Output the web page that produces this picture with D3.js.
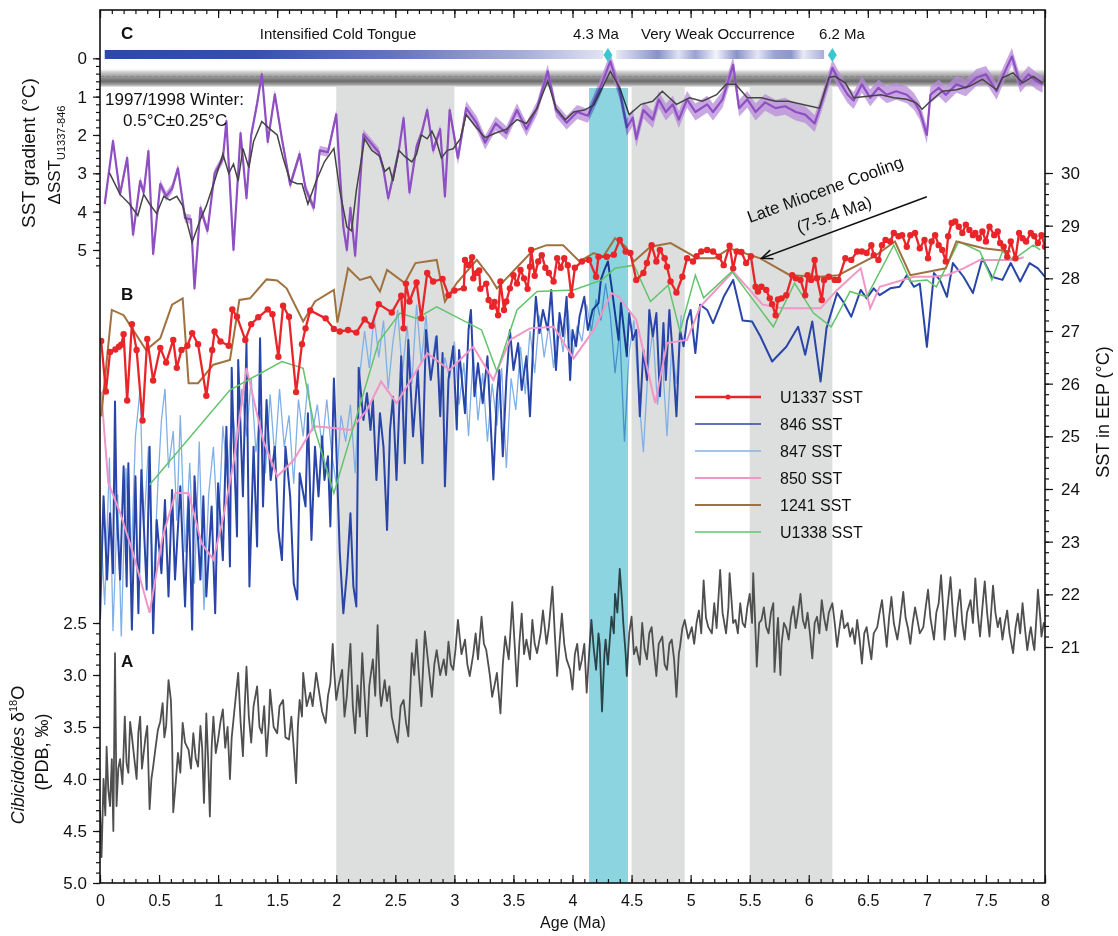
<!DOCTYPE html>
<html>
<head>
<meta charset="utf-8">
<script src="https://cdn.jsdelivr.net/npm/d3@7"></script>
<style>
  body { margin: 0; background: #fff; }
  text { font-family: "Liberation Sans", Arial, sans-serif; fill: #111; }
</style>
</head>
<body>
<svg id="chart" width="1118" height="936"></svg>
<script>
// ---- data ----

// shaded intervals (Ma)
const grayBands = [[2.0, 3.0], [4.5, 4.95], [5.5, 6.2]];
const cyanBand = [4.14, 4.47];

// C: SST gradient U1337-846 (age, dSST)
const dsst = [[0.04,3.8],[0.11,2.16],[0.17,3.54],[0.23,2.6],[0.28,4.6],[0.34,3.2],[0.37,3.5],[0.41,2.42],[0.45,5.1],[0.51,3.28],[0.56,3.6],[0.61,3.4],[0.66,2.87],[0.72,4.17],[0.77,4.2],[0.8,6.0],[0.85,3.9],[0.91,4.5],[0.97,3.0],[1.04,2.63],[1.07,1.64],[1.13,5.0],[1.19,1.95],[1.24,3.65],[1.28,2.0],[1.33,1.18],[1.37,0.42],[1.42,2.18],[1.48,0.94],[1.54,2.1],[1.61,3.3],[1.69,2.5],[1.74,3.4],[1.81,3.9],[1.86,2.4],[1.93,2.45],[2.0,1.46],[2.06,4.4],[2.09,5.0],[2.12,3.9],[2.16,5.15],[2.23,1.98],[2.28,2.16],[2.36,2.45],[2.4,2.9],[2.44,3.65],[2.48,3.1],[2.53,2.4],[2.57,1.56],[2.62,3.5],[2.68,2.3],[2.72,1.98],[2.77,1.35],[2.82,2.4],[2.88,1.85],[2.92,3.6],[2.96,1.35],[3.03,2.6],[3.1,1.3],[3.19,1.7],[3.26,2.2],[3.35,1.7],[3.44,1.95],[3.53,1.35],[3.61,1.85],[3.7,1.3],[3.79,0.34],[3.86,1.35],[3.95,1.68],[4.04,1.4],[4.13,1.5],[4.23,0.8],[4.32,0.08],[4.4,0.86],[4.46,1.8],[4.51,1.55],[4.54,2.1],[4.6,1.35],[4.68,1.6],[4.73,1.07],[4.79,1.4],[4.85,1.2],[4.9,1.6],[4.97,1.07],[5.04,1.4],[5.14,1.2],[5.19,1.4],[5.27,1.07],[5.36,0.17],[5.41,1.3],[5.48,1.07],[5.55,1.4],[5.63,1.15],[5.72,1.3],[5.8,1.25],[5.89,1.4],[5.97,1.47],[6.05,1.7],[6.1,1.25],[6.2,0.25],[6.26,0.6],[6.33,0.95],[6.38,1.1],[6.45,0.68],[6.52,1.03],[6.59,0.77],[6.66,0.95],[6.74,0.86],[6.83,0.95],[6.89,1.12],[6.94,1.38],[7.0,2.0],[7.03,0.95],[7.1,0.77],[7.16,0.95],[7.25,0.68],[7.33,0.77],[7.42,0.5],[7.5,0.42],[7.59,0.86],[7.65,0.42],[7.72,-0.05],[7.79,0.68],[7.86,0.42],[7.93,0.6],[7.98,0.68]];

// uncertainty of dSST (half width), by age segment start
const dsstErr = [[0, 0.12], [3.0, 0.18], [4.2, 0.22]];

// C: smoothed gradient
const dsstSmooth = [[0.08,2.99],[0.17,3.55],[0.25,3.8],[0.32,4.1],[0.37,3.55],[0.42,3.8],[0.48,4.05],[0.54,3.6],[0.59,3.7],[0.65,3.6],[0.7,3.85],[0.78,4.8],[0.85,4.2],[0.9,3.85],[0.97,3.2],[1.04,2.5],[1.09,3.0],[1.13,2.76],[1.17,3.2],[1.21,2.35],[1.26,2.85],[1.3,2.17],[1.37,1.65],[1.43,1.82],[1.5,2.0],[1.55,2.6],[1.61,3.2],[1.67,3.27],[1.71,3.27],[1.76,3.8],[1.83,3.2],[1.9,2.7],[1.98,2.35],[2.03,3.45],[2.09,4.4],[2.13,4.5],[2.17,3.45],[2.24,2.1],[2.3,2.4],[2.37,2.56],[2.41,2.95],[2.45,2.85],[2.48,3.2],[2.53,2.4],[2.58,2.56],[2.64,2.7],[2.68,2.5],[2.72,2.0],[2.77,2.1],[2.81,1.9],[2.85,2.17],[2.89,2.6],[2.94,2.4],[2.99,2.36],[3.05,2.1],[3.1,1.47],[3.19,1.82],[3.26,2.07],[3.35,1.95],[3.44,1.85],[3.53,1.6],[3.61,1.7],[3.7,1.3],[3.79,0.6],[3.86,1.3],[3.94,1.6],[4.01,1.4],[4.1,1.35],[4.18,1.22],[4.32,0.34],[4.4,0.77],[4.48,1.47],[4.58,1.2],[4.68,1.12],[4.76,0.86],[4.88,1.2],[4.99,1.03],[5.1,1.12],[5.22,0.95],[5.3,0.68],[5.38,0.68],[5.48,1.03],[5.6,1.03],[5.72,1.12],[5.83,1.12],[5.94,1.2],[6.09,1.3],[6.17,0.5],[6.22,0.47],[6.31,0.64],[6.38,1.03],[6.5,0.99],[6.61,0.95],[6.72,1.03],[6.83,1.07],[6.91,1.16],[6.96,1.33],[7.03,1.12],[7.13,0.86],[7.25,0.82],[7.36,0.73],[7.47,0.55],[7.59,0.82],[7.64,0.51],[7.73,0.38],[7.81,0.64],[7.9,0.47],[7.98,0.64]];

// B: SST records (age, degC)
const sstU1337 = [[0.01,26.81],[0.05,25.85],[0.085,26.6],[0.13,26.65],[0.16,26.7],[0.18,26.74],[0.2,26.94],[0.23,25.68],[0.27,27.13],[0.31,26.64],[0.36,25.3],[0.4,26.85],[0.45,26.06],[0.51,26.68],[0.56,26.4],[0.62,26.83],[0.65,26.3],[0.69,26.64],[0.74,26.72],[0.78,26.96],[0.83,26.75],[0.9,25.77],[0.95,26.64],[0.97,26.99],[1.02,26.8],[1.09,26.72],[1.12,27.41],[1.16,27.27],[1.23,26.83],[1.28,27.13],[1.34,27.26],[1.42,27.41],[1.46,27.32],[1.51,26.51],[1.55,27.48],[1.6,27.27],[1.66,25.84],[1.71,26.75],[1.74,27.05],[1.78,27.39],[1.91,27.24],[1.98,27.04],[2.03,26.99],[2.1,27.02],[2.17,26.97],[2.24,27.22],[2.3,27.1],[2.36,27.51],[2.47,27.35],[2.55,27.67],[2.57,27.05],[2.59,27.9],[2.62,27.56],[2.68,27.92],[2.72,27.24],[2.77,28.1],[2.82,27.94],[2.9,27.99],[2.95,27.68],[3.0,27.77],[3.08,27.81],[3.09,28.35],[3.12,28.25],[3.15,28.4],[3.16,28.0],[3.19,28.1],[3.21,28.15],[3.22,27.8],[3.27,27.9],[3.29,27.59],[3.32,27.46],[3.34,27.55],[3.37,27.3],[3.39,27.94],[3.42,27.4],[3.44,27.56],[3.47,27.81],[3.5,28.06],[3.53,27.9],[3.56,28.16],[3.59,28.0],[3.62,27.8],[3.64,28.22],[3.65,28.54],[3.68,28.05],[3.71,28.32],[3.74,28.44],[3.77,28.2],[3.8,28.1],[3.84,27.94],[3.87,28.38],[3.9,28.2],[3.93,28.38],[3.96,28.25],[3.99,27.68],[4.02,28.2],[4.08,28.32],[4.14,28.35],[4.2,28.03],[4.22,28.41],[4.29,28.41],[4.35,28.45],[4.4,28.73],[4.45,28.51],[4.49,28.48],[4.54,27.97],[4.6,28.1],[4.63,28.29],[4.67,28.63],[4.71,28.32],[4.74,28.54],[4.78,28.38],[4.8,28.22],[4.83,27.94],[4.88,27.73],[4.93,28.03],[4.97,28.38],[5.02,28.32],[5.05,28.42],[5.09,28.51],[5.14,28.54],[5.19,28.51],[5.24,28.41],[5.28,28.25],[5.33,28.62],[5.36,28.19],[5.39,28.51],[5.43,28.5],[5.47,28.29],[5.51,28.42],[5.55,27.84],[5.57,27.75],[5.6,27.84],[5.64,27.78],[5.67,27.62],[5.69,27.51],[5.72,27.3],[5.74,27.6],[5.77,27.62],[5.81,27.68],[5.86,28.06],[5.89,28.0],[5.93,27.97],[5.97,27.68],[5.99,28.06],[6.02,27.97],[6.05,28.35],[6.07,28.0],[6.11,27.59],[6.13,27.97],[6.17,28.03],[6.22,27.97],[6.25,27.97],[6.31,28.38],[6.36,28.35],[6.41,28.51],[6.45,28.51],[6.49,28.48],[6.53,28.63],[6.55,28.44],[6.59,28.35],[6.62,28.63],[6.65,28.73],[6.69,28.7],[6.72,28.86],[6.76,28.8],[6.79,28.82],[6.83,28.6],[6.86,28.82],[6.9,28.86],[6.94,28.57],[6.98,28.73],[7.01,28.38],[7.04,28.7],[7.07,28.82],[7.1,28.63],[7.13,28.54],[7.16,28.32],[7.18,28.8],[7.21,29.05],[7.24,29.08],[7.27,28.98],[7.3,28.86],[7.33,29.02],[7.36,28.92],[7.39,28.82],[7.41,28.86],[7.44,28.76],[7.47,28.89],[7.5,28.7],[7.53,28.98],[7.57,28.82],[7.6,28.89],[7.62,28.67],[7.65,28.6],[7.68,28.41],[7.71,28.7],[7.75,28.38],[7.78,28.86],[7.81,28.76],[7.84,28.7],[7.88,28.86],[7.91,28.8],[7.94,28.67],[7.97,28.82],[8.0,28.6]];

const sst846 = [[0.0,21.52],[0.03,23.86],[0.06,22.28],[0.085,23.54],[0.11,22.4],[0.127,25.66],[0.14,23.67],[0.17,22.28],[0.2,24.43],[0.226,22.15],[0.24,24.49],[0.27,21.33],[0.3,24.24],[0.325,21.64],[0.35,24.36],[0.395,22.09],[0.42,24.8],[0.45,21.26],[0.48,23.41],[0.52,22.4],[0.55,23.79],[0.58,21.96],[0.61,23.98],[0.635,22.28],[0.68,24.05],[0.72,21.77],[0.75,23.86],[0.78,21.33],[0.8,24.24],[0.85,22.28],[0.875,23.86],[0.9,21.96],[0.945,23.67],[0.975,21.64],[1.0,24.11],[1.04,22.65],[1.07,25.18],[1.1,22.53],[1.115,26.3],[1.13,24.99],[1.16,23.1],[1.17,26.45],[1.21,23.86],[1.24,26.77],[1.265,22.15],[1.3,24.8],[1.33,22.91],[1.355,26.86],[1.38,23.67],[1.41,25.69],[1.445,24.17],[1.48,24.8],[1.51,23.22],[1.54,22.65],[1.57,24.8],[1.61,23.86],[1.64,22.21],[1.67,21.9],[1.69,24.3],[1.74,23.67],[1.76,25.44],[1.79,23.03],[1.82,24.8],[1.85,23.86],[1.88,25.0],[1.9,24.17],[1.93,24.62],[1.95,23.29],[1.98,26.1],[2.0,24.8],[2.03,22.78],[2.06,21.64],[2.09,22.4],[2.12,23.54],[2.145,22.15],[2.17,21.77],[2.19,26.3],[2.23,25.31],[2.26,25.82],[2.29,25.12],[2.31,25.69],[2.34,24.17],[2.37,25.44],[2.4,24.8],[2.43,23.22],[2.455,25.12],[2.48,25.75],[2.51,24.17],[2.55,26.52],[2.58,24.49],[2.61,26.83],[2.65,25.0],[2.69,26.26],[2.73,24.49],[2.76,27.02],[2.8,26.07],[2.85,26.9],[2.88,25.38],[2.9,26.58],[2.92,24.05],[2.95,26.07],[2.99,26.71],[3.02,25.13],[3.04,26.64],[3.09,25.44],[3.12,27.02],[3.14,27.4],[3.17,25.76],[3.2,26.39],[3.24,25.63],[3.28,26.52],[3.33,24.18],[3.36,25.76],[3.38,26.26],[3.41,24.62],[3.44,26.07],[3.47,27.02],[3.5,26.26],[3.54,26.77],[3.57,25.88],[3.61,26.52],[3.64,25.38],[3.67,26.9],[3.69,27.65],[3.72,26.96],[3.75,27.4],[3.79,27.02],[3.82,27.78],[3.86,26.26],[3.89,27.34],[3.92,26.9],[3.95,27.65],[3.98,26.07],[4.0,27.02],[4.03,26.71],[4.06,27.28],[4.1,27.65],[4.13,27.02],[4.17,27.4],[4.22,27.53],[4.24,27.97],[4.27,28.16],[4.3,28.32],[4.33,27.85],[4.36,27.34],[4.39,26.83],[4.41,27.53],[4.46,26.52],[4.48,27.34],[4.51,26.83],[4.54,27.02],[4.57,25.38],[4.6,26.64],[4.63,26.07],[4.65,27.4],[4.68,26.9],[4.71,27.34],[4.74,25.76],[4.77,27.15],[4.79,26.07],[4.82,27.4],[4.85,26.52],[4.88,25.38],[4.91,27.02],[4.94,26.71],[4.97,27.2],[5.0,27.4],[5.04,26.58],[5.08,27.5],[5.14,27.4],[5.19,27.15],[5.28,27.65],[5.36,27.97],[5.44,27.2],[5.52,27.18],[5.59,26.9],[5.69,26.42],[5.81,26.7],[5.91,27.08],[5.97,26.55],[6.03,27.18],[6.1,26.04],[6.15,27.05],[6.24,27.72],[6.29,27.56],[6.36,27.27],[6.44,27.78],[6.49,27.62],[6.55,27.81],[6.6,27.68],[6.69,27.81],[6.77,27.84],[6.83,28.06],[6.89,27.84],[6.94,27.9],[7.0,26.7],[7.06,28.1],[7.11,27.97],[7.17,27.65],[7.22,28.29],[7.31,28.03],[7.39,27.72],[7.47,28.38],[7.55,28.03],[7.64,27.97],[7.71,28.29],[7.79,27.94],[7.87,28.29],[7.94,28.19],[8.0,28.03]];

const sst847 = [[0.0,23.5],[0.04,21.8],[0.08,24.6],[0.11,21.3],[0.15,23.9],[0.18,21.2],[0.22,24.4],[0.26,22.3],[0.3,25.0],[0.34,25.9],[0.37,23.2],[0.41,24.8],[0.45,22.0],[0.49,24.1],[0.52,25.3],[0.55,25.9],[0.58,24.4],[0.62,25.1],[0.65,23.4],[0.68,25.4],[0.72,22.8],[0.76,24.5],[0.8,22.2],[0.84,24.9],[0.88,21.7],[0.92,23.9],[0.96,24.8],[1.0,23.1],[1.04,25.2],[1.08,24.2],[1.12,25.6],[1.16,24.6],[1.2,25.9],[1.24,25.0],[1.28,26.1],[1.32,24.7],[1.36,25.5],[1.4,24.3],[1.44,25.8],[1.48,24.6],[1.52,25.9],[1.56,24.8],[1.6,25.4],[1.64,24.1],[1.68,25.7],[1.72,25.0],[1.76,26.0],[1.8,25.1],[1.84,25.6],[1.88,24.8],[1.92,25.7],[1.96,24.7],[2.0,24.1],[2.04,25.4],[2.08,24.9],[2.12,25.6],[2.16,24.3],[2.2,26.2],[2.24,27.0],[2.28,26.3],[2.32,27.3],[2.36,26.5],[2.4,27.2],[2.44,25.9],[2.48,26.8],[2.52,27.4],[2.56,26.2],[2.6,27.1],[2.64,26.0],[2.68,27.5],[2.72,26.4],[2.76,27.3],[2.8,26.1],[2.84,26.9],[2.88,25.7],[2.92,26.5],[2.96,26.1],[3.0,26.8],[3.04,25.6],[3.08,26.4],[3.12,25.0],[3.16,26.6],[3.2,25.3],[3.24,26.2],[3.28,24.9],[3.32,26.0],[3.36,25.2],[3.4,26.3],[3.44,24.4],[3.48,26.1],[3.52,25.5],[3.56,26.7],[3.6,25.8],[3.64,27.0],[3.68,26.2],[3.72,27.3],[3.76,26.5],[3.8,27.1],[3.84,26.3],[3.88,27.2],[3.92,26.6],[3.96,27.4],[4.0,26.5],[4.04,27.1],[4.08,26.8],[4.12,27.5],[4.16,27.0],[4.2,27.6],[4.24,27.2],[4.28,27.9],[4.32,27.3],[4.36,26.2],[4.4,27.0],[4.44,24.9],[4.48,26.6],[4.52,27.2],[4.56,25.8],[4.6,24.7],[4.64,26.3],[4.68,27.0],[4.72,25.6],[4.76,26.5],[4.8,25.0],[4.84,26.7],[4.88,26.0],[4.92,27.3]];

const sst850 = [[0.01,25.85],[0.07,24.12],[0.17,23.55],[0.28,22.78],[0.42,21.65],[0.53,23.09],[0.64,23.93],[0.75,23.92],[0.86,22.97],[0.96,22.66],[1.04,23.42],[1.13,24.49],[1.24,26.3],[1.38,24.93],[1.5,24.24],[1.64,24.55],[1.81,25.19],[1.98,25.16],[2.12,25.12],[2.26,25.5],[2.38,26.04],[2.51,25.63],[2.77,26.58],[2.96,26.26],[3.16,26.7],[3.33,26.07],[3.47,26.83],[3.64,27.05],[3.84,27.08],[4.01,26.48],[4.18,27.02],[4.33,27.72],[4.39,27.65],[4.54,27.21],[4.7,25.63],[4.8,26.77],[4.97,26.83],[5.08,27.46],[5.36,28.13],[5.5,27.78],[5.61,27.5],[5.78,27.43],[5.95,27.43],[6.1,27.43],[6.24,27.78],[6.44,28.19],[6.52,27.43],[6.6,27.84],[6.89,28.03],[7.03,28.03],[7.17,28.06],[7.31,28.19],[7.45,28.35],[7.59,28.35],[7.73,28.35],[7.82,28.4]];

const sst1241 = [[0.01,25.38],[0.1,27.4],[0.2,27.3],[0.39,26.64],[0.51,26.86],[0.61,27.5],[0.7,27.62],[0.75,26.01],[0.83,26.01],[0.96,26.36],[1.1,26.45],[1.18,27.59],[1.27,27.62],[1.41,27.98],[1.5,27.96],[1.58,27.81],[1.72,27.18],[1.82,27.56],[1.98,27.78],[2.01,27.16],[2.1,28.19],[2.2,27.97],[2.29,28.03],[2.37,27.75],[2.43,28.16],[2.58,27.91],[2.67,28.29],[2.85,28.35],[2.92,27.56],[3.02,27.91],[3.19,28.35],[3.3,28.03],[3.36,27.81],[3.67,28.54],[3.78,28.63],[3.92,28.63],[4.06,28.32],[4.18,28.48],[4.26,28.41],[4.36,28.76],[4.45,28.6],[4.52,28.32],[4.66,28.6],[4.83,28.67],[5.01,28.44],[5.05,28.38],[5.2,28.38],[5.33,28.57],[5.59,28.38],[5.84,28.06],[6.1,28.03],[6.25,28.06],[6.55,28.41],[6.73,28.7],[6.86,28.06],[7.16,28.19],[7.25,28.7],[7.48,28.57],[7.71,28.51]];

const sstU1338 = [[0.42,24.08],[1.1,25.88],[1.54,26.42],[1.72,26.29],[1.82,25.12],[1.98,23.92],[2.36,26.8],[2.54,27.34],[2.68,27.24],[2.85,27.46],[3.23,27.02],[3.36,26.23],[3.53,27.4],[3.7,27.75],[4.01,27.78],[4.25,27.97],[4.36,28.19],[4.52,28.25],[4.66,27.56],[4.81,27.87],[4.91,26.99],[5.04,28.06],[5.11,27.63],[5.35,28.13],[5.52,27.62],[5.7,27.08],[5.88,27.91],[6.04,27.34],[6.19,27.08],[6.35,27.75],[6.49,27.65],[6.72,28.63],[6.86,27.94],[7.0,27.97],[7.08,27.84],[7.27,28.7],[7.45,28.51],[7.55,27.97],[7.64,28.51],[7.73,28.35],[7.9,28.63],[7.96,28.54]];

// A: Cibicidoides d18O (age, permil)
const d18O = [[0.0,4.3],[0.013,4.75],[0.03,4.0],[0.045,4.35],[0.056,3.69],[0.07,4.1],[0.085,4.26],[0.1,3.81],[0.113,4.5],[0.127,2.79],[0.14,4.26],[0.155,3.9],[0.17,3.81],[0.19,4.05],[0.21,3.4],[0.225,3.85],[0.24,3.94],[0.255,3.45],[0.27,3.59],[0.29,3.8],[0.31,4.0],[0.325,3.55],[0.34,3.4],[0.355,3.9],[0.37,3.75],[0.385,3.6],[0.4,3.49],[0.42,4.29],[0.435,4.0],[0.45,3.88],[0.47,3.7],[0.49,3.53],[0.51,3.45],[0.53,3.27],[0.545,3.6],[0.56,3.49],[0.58,3.05],[0.6,3.24],[0.61,3.6],[0.62,4.32],[0.64,4.05],[0.66,3.75],[0.68,3.94],[0.7,3.46],[0.72,3.65],[0.75,3.72],[0.77,3.9],[0.79,3.56],[0.81,3.8],[0.83,3.88],[0.85,3.49],[0.865,3.7],[0.88,4.23],[0.89,3.85],[0.9,3.37],[0.915,3.8],[0.93,4.36],[0.945,3.7],[0.96,3.4],[0.98,3.75],[1.0,3.62],[1.02,3.45],[1.04,3.33],[1.06,3.7],[1.08,3.5],[1.1,4.0],[1.115,3.6],[1.13,3.43],[1.15,3.2],[1.17,2.98],[1.19,3.45],[1.21,3.78],[1.225,3.3],[1.24,2.92],[1.26,3.4],[1.28,3.65],[1.3,3.3],[1.33,3.11],[1.35,3.5],[1.37,3.56],[1.39,3.3],[1.41,3.78],[1.43,3.45],[1.44,3.14],[1.47,3.5],[1.5,3.56],[1.52,3.3],[1.55,3.24],[1.57,3.6],[1.6,3.62],[1.62,3.4],[1.64,3.7],[1.66,4.04],[1.675,3.5],[1.69,3.24],[1.71,3.4],[1.72,2.98],[1.75,3.3],[1.78,3.17],[1.8,3.3],[1.83,2.98],[1.86,3.2],[1.88,3.35],[1.91,3.46],[1.93,3.2],[1.95,3.08],[1.97,2.7],[1.985,3.0],[2.0,3.24],[2.02,3.1],[2.05,2.95],[2.07,3.4],[2.09,3.2],[2.12,2.7],[2.14,3.3],[2.16,3.56],[2.18,3.1],[2.2,3.4],[2.22,2.79],[2.24,3.2],[2.26,3.59],[2.28,3.1],[2.31,2.85],[2.33,3.2],[2.35,2.52],[2.37,3.17],[2.38,3.3],[2.41,3.05],[2.43,3.25],[2.45,3.11],[2.47,3.4],[2.5,3.56],[2.52,3.65],[2.545,3.3],[2.57,3.24],[2.59,3.45],[2.61,3.59],[2.64,2.79],[2.66,3.0],[2.68,2.66],[2.7,3.0],[2.72,3.3],[2.75,2.58],[2.78,2.9],[2.81,3.21],[2.83,2.9],[2.85,2.76],[2.88,3.0],[2.91,2.85],[2.93,3.0],[2.95,2.68],[2.97,2.9],[2.99,2.95],[3.01,2.75],[3.03,2.47],[3.06,2.8],[3.09,2.66],[3.11,2.9],[3.13,3.01],[3.16,2.8],[3.18,2.6],[3.2,2.85],[3.23,2.44],[3.25,2.7],[3.27,2.76],[3.3,3.0],[3.32,3.21],[3.34,3.1],[3.36,2.98],[3.39,3.37],[3.41,2.9],[3.43,2.63],[3.46,2.85],[3.49,2.3],[3.51,2.7],[3.53,3.11],[3.55,2.7],[3.57,2.41],[3.59,2.8],[3.61,2.66],[3.64,2.85],[3.66,2.47],[3.68,2.7],[3.7,2.79],[3.73,2.6],[3.75,2.38],[3.78,2.7],[3.8,2.54],[3.83,2.15],[3.85,2.6],[3.87,3.01],[3.89,2.7],[3.91,2.41],[3.93,2.7],[3.95,2.85],[3.98,2.95],[4.0,3.14],[4.02,2.8],[4.04,2.7],[4.06,2.95],[4.08,2.85],[4.1,2.7],[4.12,3.17],[4.14,2.8],[4.16,2.47],[4.18,2.75],[4.2,2.95],[4.22,2.6],[4.23,2.7],[4.25,3.35],[4.27,2.8],[4.28,2.66],[4.3,2.9],[4.33,2.44],[4.35,2.6],[4.36,2.22],[4.38,2.4],[4.4,1.98],[4.42,2.3],[4.43,2.5],[4.45,2.8],[4.46,3.01],[4.48,2.6],[4.5,2.44],[4.52,2.8],[4.54,2.73],[4.57,2.9],[4.59,2.5],[4.61,2.75],[4.63,2.85],[4.65,2.6],[4.67,2.54],[4.69,2.8],[4.71,3.01],[4.73,2.7],[4.76,2.63],[4.78,2.9],[4.8,2.95],[4.82,2.7],[4.84,2.66],[4.86,2.85],[4.88,3.21],[4.9,2.8],[4.91,2.73],[4.93,2.55],[4.95,2.47],[4.98,2.65],[5.01,2.54],[5.03,2.7],[5.05,2.5],[5.07,2.38],[5.09,2.6],[5.11,2.09],[5.13,2.45],[5.15,2.54],[5.18,2.6],[5.2,2.31],[5.22,2.55],[5.25,1.99],[5.27,2.4],[5.3,2.6],[5.32,2.35],[5.33,2.02],[5.36,2.5],[5.38,2.47],[5.4,2.6],[5.42,2.31],[5.44,2.5],[5.46,2.54],[5.48,2.35],[5.5,2.22],[5.52,2.5],[5.53,2.02],[5.55,2.6],[5.56,2.92],[5.58,2.5],[5.6,2.47],[5.62,2.35],[5.64,2.54],[5.66,2.6],[5.68,2.4],[5.7,2.31],[5.71,2.97],[5.73,2.6],[5.74,2.45],[5.76,3.0],[5.77,2.7],[5.79,2.5],[5.81,2.55],[5.83,2.66],[5.85,2.45],[5.87,2.34],[5.89,2.55],[5.91,2.4],[5.93,2.22],[5.95,2.47],[5.97,2.55],[5.99,2.4],[6.01,2.6],[6.03,2.84],[6.05,2.5],[6.07,2.44],[6.09,2.6],[6.11,2.28],[6.13,2.45],[6.15,2.57],[6.17,2.4],[6.2,2.31],[6.22,2.5],[6.24,2.73],[6.26,2.55],[6.28,2.38],[6.3,2.55],[6.33,2.5],[6.35,2.63],[6.37,2.55],[6.39,2.7],[6.41,2.47],[6.43,2.65],[6.45,2.89],[6.47,2.6],[6.49,2.54],[6.51,2.7],[6.53,2.85],[6.55,2.6],[6.58,2.54],[6.6,2.4],[6.62,2.28],[6.64,2.5],[6.66,2.73],[6.68,2.45],[6.7,2.25],[6.72,2.5],[6.75,2.66],[6.77,2.5],[6.8,2.2],[6.82,2.45],[6.84,2.55],[6.86,2.7],[6.88,2.5],[6.9,2.35],[6.92,2.47],[6.94,2.6],[6.97,2.54],[6.99,2.35],[7.01,2.18],[7.03,2.45],[7.06,2.66],[7.08,2.4],[7.1,2.31],[7.12,2.04],[7.14,2.4],[7.15,2.66],[7.17,2.4],[7.2,2.06],[7.22,2.4],[7.24,2.63],[7.26,2.35],[7.28,2.18],[7.3,2.5],[7.32,2.66],[7.34,2.4],[7.37,2.28],[7.39,2.5],[7.41,2.07],[7.43,2.4],[7.45,2.63],[7.47,2.35],[7.49,2.1],[7.51,2.4],[7.53,2.63],[7.55,2.3],[7.56,2.14],[7.58,2.4],[7.6,2.54],[7.62,2.45],[7.64,2.66],[7.66,2.5],[7.68,2.38],[7.7,2.6],[7.73,2.79],[7.75,2.55],[7.77,2.41],[7.79,2.6],[7.81,2.31],[7.83,2.55],[7.85,2.76],[7.87,2.6],[7.88,2.54],[7.9,2.7],[7.91,2.76],[7.93,2.4],[7.94,2.18],[7.96,2.45],[7.97,2.63],[7.99,2.5],[8.0,2.54]];

// axis ticks
const ageTicks = [0, 0.5, 1, 1.5, 2, 2.5, 3, 3.5, 4, 4.5, 5, 5.5, 6, 6.5, 7, 7.5, 8];
const gradTicks = [0, 1, 2, 3, 4, 5];
const sstTicks = [21, 22, 23, 24, 25, 26, 27, 28, 29, 30];
const d18OTicks = [2.5, 3.0, 3.5, 4.0, 4.5, 5.0];

// legend
const legendItems = [
  {label: 'U1337 SST', color: '#e8262a', width: 2.5, dot: true},
  {label: '846 SST', color: '#2a45a8', width: 1.5},
  {label: '847 SST', color: '#80b0e6', width: 1.3},
  {label: '850 SST', color: '#f196c6', width: 2},
  {label: '1241 SST', color: '#a0713f', width: 2},
  {label: 'U1338 SST', color: '#62c46c', width: 1.5}
];

// ---- layout ----
const L = 100, R = 1045, T = 10, B = 883;
const BAND_TOP = 87;

const svg = d3.select('#chart');
const x = d3.scaleLinear().domain([0, 8]).range([L, R]);
const yC = d3.scaleLinear().domain([0, 5]).range([58.3, 250]);
const yS = d3.scaleLinear().domain([21, 30]).range([647, 173]);
const yO = d3.scaleLinear().domain([2.5, 5]).range([623, 883]);

const defs = svg.append('defs');
defs.append('clipPath').attr('id', 'clip')
  .append('rect').attr('x', L).attr('y', T).attr('width', R - L).attr('height', B - T);

// gradients for the top bars and the 1997/98 band
const cold = defs.append('linearGradient').attr('id', 'coldGrad');
[[0, '#2a4aa5'], [0.3, '#3552aa'], [0.6, '#6a77c0'], [0.85, '#aab0dc'], [1, '#e2e4f2']]
  .forEach(s => cold.append('stop').attr('offset', s[0]).attr('stop-color', s[1]));

const weak = defs.append('linearGradient').attr('id', 'weakGrad');
[[0, '#e6e8f4'], [0.1, '#b8bde2'], [0.2, '#8890cc'], [0.3, '#dfe2f2'], [0.38, '#9aa0d4'],
 [0.48, '#f2f3fa'], [0.58, '#8a92cd'], [0.68, '#e4e6f3'], [0.76, '#9da3d6'], [0.84, '#8d95cf'],
 [0.9, '#e8eaf5'], [1, '#a7acd9']]
  .forEach(s => weak.append('stop').attr('offset', s[0]).attr('stop-color', s[1]));

const winter = defs.append('linearGradient').attr('id', 'winterGrad')
  .attr('x1', 0).attr('y1', 0).attr('x2', 0).attr('y2', 1);
[[0, '#ffffff', 0], [0.2, '#d2d2d2', 1], [0.45, '#9c9c9c', 1], [0.7, '#6c6c6c', 1], [0.88, '#a5a5a5', 1], [1, '#eeeeee', 1]]
  .forEach(s => winter.append('stop').attr('offset', s[0]).attr('stop-color', s[1]).attr('stop-opacity', s[2]));

// ---- shaded intervals ----
svg.append('g').selectAll('rect').data(grayBands).join('rect')
  .attr('x', d => x(d[0])).attr('width', d => x(d[1]) - x(d[0]))
  .attr('y', BAND_TOP).attr('height', B - BAND_TOP)
  .attr('fill', '#dddede');

// 1997/1998 winter band (0.5 +/- 0.25)
svg.append('rect')
  .attr('x', L).attr('width', R - L)
  .attr('y', yC(0.25)).attr('height', yC(0.75) - yC(0.25))
  .attr('fill', 'url(#winterGrad)');
svg.append('line')
  .attr('x1', L).attr('x2', R).attr('y1', yC(0.5) - 1).attr('y2', yC(0.5) - 1)
  .attr('stroke', '#8a8a8a').attr('stroke-width', 1).attr('stroke-dasharray', '4,2');

const plot = svg.append('g').attr('clip-path', 'url(#clip)');
const line = yScale => d3.line().x(d => x(d[0])).y(d => yScale(d[1]));

// A: d18O
plot.append('path').datum(d18O)
  .attr('d', line(yO)).attr('fill', 'none')
  .attr('stroke', '#4f4f4f').attr('stroke-width', 1.8).attr('stroke-linejoin', 'round');

// C: gradient band + lines
const errAt = a => dsstErr.filter(e => a >= e[0]).pop()[1];
plot.append('path').datum(dsst)
  .attr('d', d3.area().x(d => x(d[0]))
    .y0(d => yC(d[1] - errAt(d[0]))).y1(d => yC(d[1] + errAt(d[0]))))
  .attr('fill', '#b78ad8').attr('opacity', 0.75);
plot.append('path').datum(dsst)
  .attr('d', line(yC)).attr('fill', 'none')
  .attr('stroke', '#8d4fc2').attr('stroke-width', 2.2).attr('stroke-linejoin', 'round');
plot.append('path').datum(dsstSmooth)
  .attr('d', line(yC)).attr('fill', 'none')
  .attr('stroke', '#444').attr('stroke-width', 1.5);

// B: SST records
plot.append('path').datum(sst847)
  .attr('d', line(yS)).attr('fill', 'none')
  .attr('stroke', '#80b0e6').attr('stroke-width', 1.3);
plot.append('path').datum(sst846)
  .attr('d', line(yS)).attr('fill', 'none')
  .attr('stroke', '#2a45a8').attr('stroke-width', 2).attr('stroke-linejoin', 'round');

// cyan interval, blended over the records below it
svg.append('rect')
  .attr('x', x(cyanBand[0])).attr('width', x(cyanBand[1]) - x(cyanBand[0]))
  .attr('y', BAND_TOP + 1).attr('height', B - BAND_TOP - 1)
  .attr('fill', '#8bd4e0').style('mix-blend-mode', 'multiply');

const plot2 = svg.append('g').attr('clip-path', 'url(#clip)');
plot2.append('path').datum(sst850)
  .attr('d', line(yS)).attr('fill', 'none')
  .attr('stroke', '#f196c6').attr('stroke-width', 2);
plot2.append('path').datum(sstU1338)
  .attr('d', line(yS)).attr('fill', 'none')
  .attr('stroke', '#62c46c').attr('stroke-width', 1.5);
plot2.append('path').datum(sst1241)
  .attr('d', line(yS)).attr('fill', 'none')
  .attr('stroke', '#a0713f').attr('stroke-width', 2);
plot2.append('path').datum(sstU1337)
  .attr('d', line(yS)).attr('fill', 'none')
  .attr('stroke', '#e8262a').attr('stroke-width', 2.3).attr('stroke-linejoin', 'round');
plot2.append('g').selectAll('circle').data(sstU1337).join('circle')
  .attr('cx', d => x(d[0])).attr('cy', d => yS(d[1])).attr('r', 3.2)
  .attr('fill', '#e8262a');

// ---- top bars ----
svg.append('rect').attr('x', x(0.04)).attr('width', x(4.26) - x(0.04))
  .attr('y', 50).attr('height', 9).attr('fill', 'url(#coldGrad)');
svg.append('rect').attr('x', x(4.37)).attr('width', x(6.13) - x(4.37))
  .attr('y', 50).attr('height', 9).attr('fill', 'url(#weakGrad)');
svg.selectAll('.diamond').data([4.3, 6.2]).join('path')
  .attr('class', 'diamond')
  .attr('d', 'M0,-7L4.5,0L0,7L-4.5,0Z')
  .attr('transform', d => `translate(${x(d)},55)`)
  .attr('fill', '#3cc6d0');

// ---- annotations ----
const note = (tx, ty, str, opt = {}) => svg.append('text')
  .attr('x', tx).attr('y', ty).attr('font-size', opt.size || 15)
  .attr('font-weight', opt.bold ? 'bold' : null)
  .attr('text-anchor', opt.anchor || 'start').text(str);

note(121, 39, 'C', {bold: true, size: 17});
note(338, 39, 'Intensified Cold Tongue', {anchor: 'middle'});
note(596, 39, '4.3 Ma', {anchor: 'middle'});
note(718, 39, 'Very Weak Occurrence', {anchor: 'middle'});
note(842, 39, '6.2 Ma', {anchor: 'middle'});
note(105, 105, '1997/1998 Winter:', {size: 17});
note(123, 126, '0.5°C±0.25°C', {size: 17});
note(121, 300, 'B', {bold: true, size: 17});
note(121, 667, 'A', {bold: true, size: 17});

// Late Miocene cooling arrow
const arrowFrom = [7.0, 29.55], arrowTo = [5.6, 28.38];
const ax0 = x(arrowFrom[0]), ay0 = yS(arrowFrom[1]), ax1 = x(arrowTo[0]), ay1 = yS(arrowTo[1]);
const ang = Math.atan2(ay1 - ay0, ax1 - ax0);
svg.append('line').attr('x1', ax0).attr('y1', ay0).attr('x2', ax1).attr('y2', ay1)
  .attr('stroke', '#111').attr('stroke-width', 1.5);
svg.append('path')
  .attr('d', `M${ax1 - 12 * Math.cos(ang - 0.4)},${ay1 - 12 * Math.sin(ang - 0.4)}L${ax1},${ay1}L${ax1 - 12 * Math.cos(ang + 0.4)},${ay1 - 12 * Math.sin(ang + 0.4)}`)
  .attr('fill', 'none').attr('stroke', '#111').attr('stroke-width', 1.5);
svg.append('text').attr('transform', 'translate(827,195) rotate(-20)')
  .attr('text-anchor', 'middle').attr('font-size', 17).text('Late Miocene Cooling');
svg.append('text').attr('transform', 'translate(836,220) rotate(-20)')
  .attr('text-anchor', 'middle').attr('font-size', 17).text('(7-5.4 Ma)');

// ---- legend ----
const leg = svg.append('g').selectAll('g').data(legendItems).join('g')
  .attr('transform', (d, i) => `translate(695,${397 + i * 27})`);
leg.append('line').attr('x1', 0).attr('x2', 66)
  .attr('stroke', d => d.color).attr('stroke-width', d => d.width);
leg.filter(d => d.dot).append('circle').attr('cx', 33).attr('r', 2.5).attr('fill', d => d.color);
leg.append('text').attr('x', 85).attr('dy', '0.36em').attr('font-size', 16).text(d => d.label);

// ---- axes ----
const styleAxis = g => {
  g.select('.domain').remove();
  g.selectAll('.tick line').attr('stroke', '#111').attr('stroke-width', 1.2);
  g.selectAll('.tick text').attr('fill', '#111')
    .style('font-family', '"Liberation Sans", Arial, sans-serif');
};
const minor = (a, b, step) => d3.range(Math.round(a / step), Math.round(b / step) + 1).map(i => +(i * step).toFixed(2));

// bottom
svg.append('g').attr('transform', `translate(0,${B})`)
  .call(d3.axisBottom(x).tickValues(minor(0, 8, 0.1)).tickSize(-4).tickFormat(''))
  .call(styleAxis);
svg.append('g').attr('transform', `translate(0,${B})`)
  .call(d3.axisBottom(x).tickValues(ageTicks).tickSizeInner(-8).tickSizeOuter(0).tickPadding(12).tickFormat(d => String(d)))
  .call(styleAxis)
  .call(g => g.selectAll('.tick text').attr('font-size', 16));
// top
svg.append('g').attr('transform', `translate(0,${T})`)
  .call(d3.axisTop(x).tickValues(minor(0, 8, 0.1)).tickSize(-4).tickFormat(''))
  .call(styleAxis);
svg.append('g').attr('transform', `translate(0,${T})`)
  .call(d3.axisTop(x).tickValues(ageTicks).tickSize(-8).tickFormat(''))
  .call(styleAxis);
// left, panel C
svg.append('g').attr('transform', `translate(${L},0)`)
  .call(d3.axisLeft(yC).tickValues(minor(0, 5.4, 0.2)).tickSize(4).tickFormat(''))
  .call(styleAxis);
svg.append('g').attr('transform', `translate(${L},0)`)
  .call(d3.axisLeft(yC).tickValues(gradTicks).tickSize(7).tickPadding(6).tickFormat(d3.format('d')))
  .call(styleAxis)
  .call(g => g.selectAll('.tick text').attr('font-size', 17));
// left, panel A
svg.append('g').attr('transform', `translate(${L},0)`)
  .call(d3.axisLeft(yO).tickValues(minor(2.5, 5, 0.1)).tickSize(4).tickFormat(''))
  .call(styleAxis);
svg.append('g').attr('transform', `translate(${L},0)`)
  .call(d3.axisLeft(yO).tickValues(d18OTicks).tickSize(7).tickPadding(6).tickFormat(d3.format('.1f')))
  .call(styleAxis)
  .call(g => g.selectAll('.tick text').attr('font-size', 17));
// right, panel B
svg.append('g').attr('transform', `translate(${R},0)`)
  .call(d3.axisRight(yS).tickValues(minor(21, 30, 0.2)).tickSize(4).tickFormat(''))
  .call(styleAxis);
svg.append('g').attr('transform', `translate(${R},0)`)
  .call(d3.axisRight(yS).tickValues(sstTicks).tickSize(8).tickPadding(8).tickFormat(d3.format('d')))
  .call(styleAxis)
  .call(g => g.selectAll('.tick text').attr('font-size', 17));

// frame
svg.append('rect').attr('x', L).attr('y', T).attr('width', R - L).attr('height', B - T)
  .attr('fill', 'none').attr('stroke', '#111').attr('stroke-width', 1.6);

// ---- axis titles ----
svg.append('text').attr('x', 573).attr('y', 928)
  .attr('text-anchor', 'middle').attr('font-size', 16).text('Age (Ma)');

svg.append('text').attr('transform', 'translate(35,153) rotate(-90)')
  .attr('text-anchor', 'middle').attr('font-size', 19).text('SST gradient (°C)');
const dl = svg.append('text').attr('transform', 'translate(60,155) rotate(-90)')
  .attr('text-anchor', 'middle').attr('font-size', 17);
dl.append('tspan').text('ΔSST');
dl.append('tspan').attr('font-size', 11).attr('dy', 5).text('U1337-846');

const ol = svg.append('text').attr('transform', 'translate(24,755) rotate(-90)')
  .attr('text-anchor', 'middle').attr('font-size', 18);
ol.append('tspan').attr('font-style', 'italic').text('Cibicidoides');
ol.append('tspan').text(' δ');
ol.append('tspan').attr('font-size', 11).attr('dy', -7).text('18');
ol.append('tspan').attr('dy', 7).text('O');
svg.append('text').attr('transform', 'translate(48,752) rotate(-90)')
  .attr('text-anchor', 'middle').attr('font-size', 18).text('(PDB, ‰)');

svg.append('text').attr('transform', 'translate(1109,412) rotate(-90)')
  .attr('text-anchor', 'middle').attr('font-size', 18).text('SST in EEP (°C)');
</script>
</body>
</html>
